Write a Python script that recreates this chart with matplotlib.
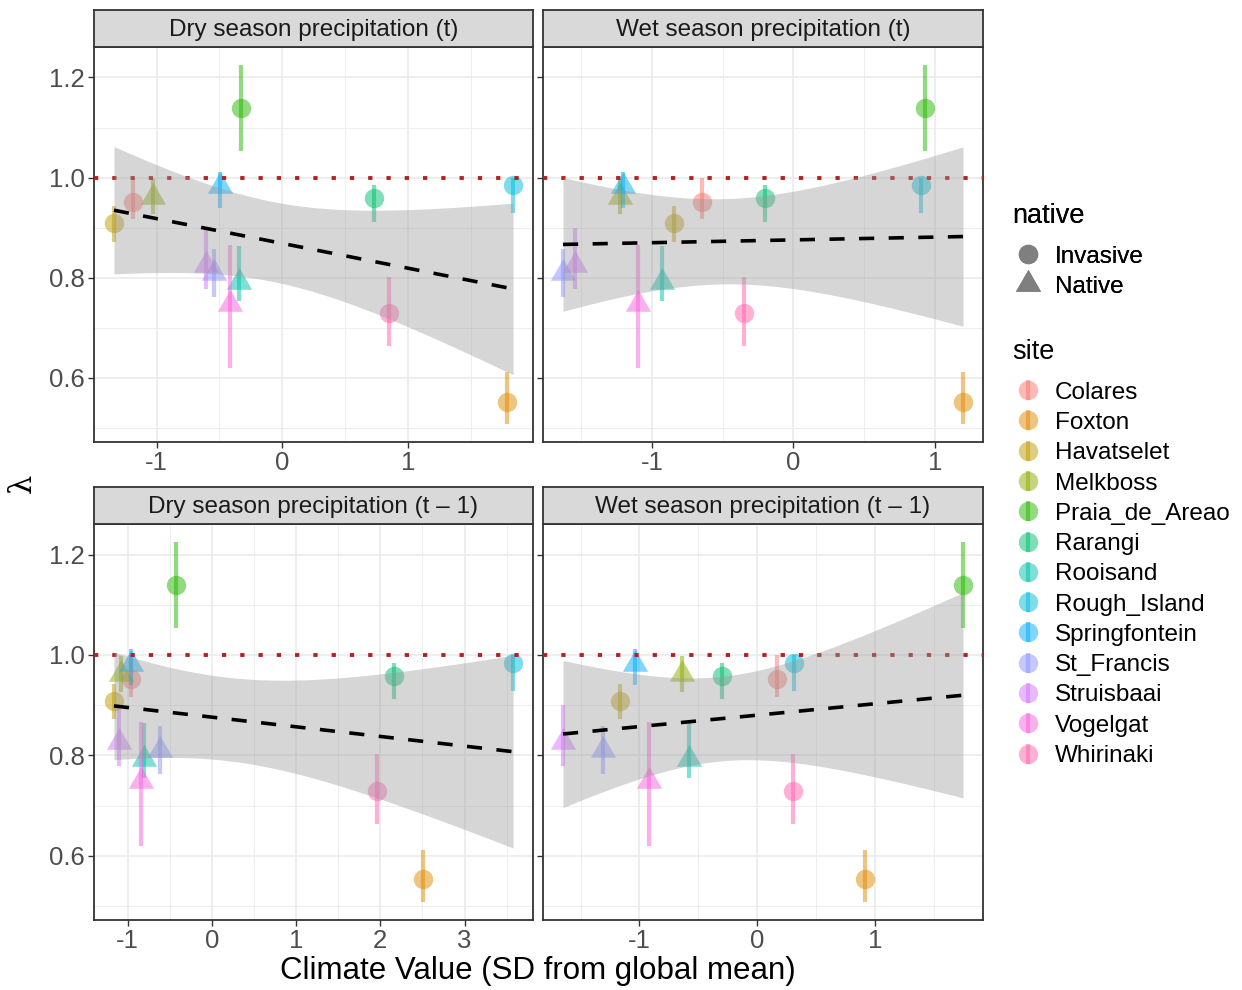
import matplotlib
matplotlib.use('Agg')
import matplotlib.pyplot as plt
import numpy as np
from matplotlib.lines import Line2D
from matplotlib.legend_handler import HandlerTuple

plt.rcParams['font.family'] = ['Liberation Sans', 'DejaVu Sans']

# sites, status and population growth rate (lambda) with interval
sites = ['Colares', 'Foxton', 'Havatselet', 'Melkboss', 'Praia_de_Areao', 'Rarangi',
         'Rooisand', 'Rough_Island', 'Springfontein', 'St_Francis', 'Struisbaai',
         'Vogelgat', 'Whirinaki']
native = ['Invasive', 'Invasive', 'Invasive', 'Native', 'Invasive', 'Invasive',
          'Native', 'Invasive', 'Native', 'Native', 'Native', 'Native', 'Invasive']
lam = [0.952, 0.553, 0.909, 0.962, 1.139, 0.959, 0.792, 0.985, 0.983, 0.810, 0.826, 0.748, 0.729]
lam_lo = [0.917, 0.508, 0.872, 0.927, 1.054, 0.912, 0.754, 0.929, 0.940, 0.762, 0.778, 0.619, 0.663]
lam_hi = [0.999, 0.611, 0.943, 0.998, 1.225, 0.985, 0.864, 1.000, 1.012, 0.858, 0.900, 0.866, 0.802]

# climate values (SD from global mean) for each panel
dry_t = [-1.189, 1.786, -1.339, -1.030, -0.327, 0.729, -0.343, 1.834, -0.499, -0.544, -0.610, -0.417, 0.845]
wet_t = [-0.648, 1.199, -0.843, -1.230, 0.931, -0.200, -0.931, 0.900, -1.208, -1.630, -1.548, -1.102, -0.351]
dry_t1 = [-0.964, 2.507, -1.162, -1.083, -0.424, 2.168, -0.807, 3.576, -0.956, -0.613, -1.103, -0.846, 1.962]
wet_t1 = [0.170, 0.919, -1.165, -0.640, 1.747, -0.297, -0.583, 0.308, -1.041, -1.306, -1.649, -0.922, 0.302]

panel_titles = ['Dry season precipitation (t)', 'Wet season precipitation (t)',
                'Dry season precipitation (t – 1)', 'Wet season precipitation (t – 1)']
panel_x = [dry_t, wet_t, dry_t1, wet_t1]

colors = ['#F8766D', '#E18A00', '#BE9C00', '#8CAB00', '#24B700', '#00BE70', '#00C1AB',
          '#00BBDA', '#00ACFC', '#8B93FF', '#D575FE', '#F962DD', '#FF65AC']

Z_CRIT = 1.96  # 95% band

# triangle centred on its centroid (like R's pch 17)
tri = [(0, 1), (-0.866, -0.5), (0.866, -0.5), (0, 1)]

W, H = 1242, 990
fig = plt.figure(figsize=(W / 100, H / 100), dpi=100)

boxes = [(94, 533, 47, 442), (543, 983, 47, 442), (94, 533, 524, 920), (543, 983, 524, 920)]
strip_h = 37

lam_a = np.array(lam)
lo_a = np.array(lam_lo)
hi_a = np.array(lam_hi)
yr = hi_a.max() - lo_a.min()
ylim = (lo_a.min() - 0.05 * yr, hi_a.max() + 0.05 * yr)

for k, (l, r, t, b) in enumerate(boxes):
    ax = fig.add_axes([l / W, 1 - b / H, (r - l) / W, (b - t) / H])
    x = np.array(panel_x[k])

    for i in range(len(sites)):
        ax.plot([x[i], x[i]], [lam_lo[i], lam_hi[i]], color=colors[i], alpha=0.5,
                lw=3.0, solid_capstyle='butt', zorder=2)
        if native[i] == 'Native':
            ax.plot(x[i], lam[i], marker=tri, ms=21, color=colors[i], alpha=0.5,
                    mew=0, ls='', zorder=2)
        else:
            ax.plot(x[i], lam[i], marker='o', ms=14, color=colors[i], alpha=0.5,
                    mew=0, ls='', zorder=2)

    ax.axhline(1.0, color='#B22222', lw=2.8, ls=(0, (1.1, 3.6)), zorder=3)

    # linear fit with 95% confidence band
    n = len(x)
    slope, icept = np.polyfit(x, lam_a, 1)
    resid = lam_a - (icept + slope * x)
    s = np.sqrt(np.sum(resid ** 2) / (n - 2))
    xs = np.linspace(x.min(), x.max(), 80)
    fit = icept + slope * xs
    se = s * np.sqrt(1 / n + (xs - x.mean()) ** 2 / np.sum((x - x.mean()) ** 2))
    ax.fill_between(xs, fit - Z_CRIT * se, fit + Z_CRIT * se, color='#999999',
                    alpha=0.4, lw=0, zorder=4)
    ax.plot(xs, fit, color='black', lw=2.6, ls=(0, (4.2, 4.0)), zorder=5)

    xr = x.max() - x.min()
    ax.set_xlim(x.min() - 0.05 * xr, x.max() + 0.05 * xr)
    ax.set_ylim(ylim)
    xt = np.arange(np.ceil(x.min() - 0.05 * xr), np.floor(x.max() + 0.05 * xr) + 1)
    ax.set_xticks(xt)
    ax.set_xticklabels([str(int(v)) for v in xt])
    ax.set_xticks(np.arange(np.ceil(2 * (x.min() - 0.05 * xr)) / 2, x.max() + 0.05 * xr, 0.5),
                  minor=True)
    ax.set_yticks([0.6, 0.8, 1.0, 1.2])
    ax.set_yticks([0.5, 0.7, 0.9, 1.1], minor=True)
    if k % 2 == 1:
        ax.set_yticklabels([])
    else:
        ax.set_yticklabels(['0.6', '0.8', '1.0', '1.2'])
    ax.grid(True, which='major', color='#EBEBEB', lw=1.2, zorder=0)
    ax.grid(True, which='minor', color='#EBEBEB', lw=0.6, zorder=0)
    ax.set_axisbelow(True)
    ax.tick_params(which='major', length=4.3, width=1.0, color='#333333',
                   labelsize=18.5, labelcolor='#4D4D4D', pad=2.5)
    ax.tick_params(which='minor', length=0)
    for sp in ax.spines.values():
        sp.set_color('#333333')
        sp.set_linewidth(1.3)

    sax = fig.add_axes([l / W, 1 - t / H, (r - l) / W, strip_h / H])
    sax.set_facecolor('#D9D9D9')
    sax.set_xticks([])
    sax.set_yticks([])
    for sp in sax.spines.values():
        sp.set_color('#333333')
        sp.set_linewidth(1.3)
    sax.text(0.5, 0.47, panel_titles[k], ha='center', va='center', fontsize=17.5,
             color='#1A1A1A', transform=sax.transAxes)

fig.text(538 / W, 1 - 971 / H, 'Climate Value (SD from global mean)', ha='center',
         va='center', fontsize=22.5)
fig.text(22 / W, 1 - 483 / H, 'λ', ha='center', va='center', fontsize=22,
         rotation=90, family=['DejaVu Serif'])

# legends
h_native = [Line2D([], [], marker='o', ms=14, color='#7F7F7F', ls='', mew=0),
            Line2D([], [], marker=tri, ms=21, color='#7F7F7F', ls='', mew=0)]
leg1 = fig.legend(h_native, ['Invasive', 'Native'], title='native', loc='upper left',
                  bbox_to_anchor=(995 / W, 1 - 186 / H), frameon=False, fontsize=17.5,
                  title_fontsize=19.5, alignment='left', handlelength=1.3,
                  handletextpad=0.45, labelspacing=0.34, borderpad=0.2)
leg1._legend_box.sep = 12
fig.add_artist(leg1)

h_site = [(Line2D([], [], marker='o', ms=14, color=c, alpha=0.5, ls='', mew=0),
           Line2D([], [], marker='|', ms=14, mew=3, color=c, alpha=0.5, ls=''))
          for c in colors]
leg2 = fig.legend(h_site, sites, title='site', loc='upper left',
                  bbox_to_anchor=(995 / W, 1 - 322 / H), frameon=False, fontsize=17.5,
                  title_fontsize=19.5, alignment='left', handlelength=1.3, handletextpad=0.45,
                  labelspacing=0.34, borderpad=0.2,
                  handler_map={tuple: HandlerTuple(ndivide=1, pad=0)})
leg2._legend_box.sep = 12

fig.savefig('out.png', dpi=100)
